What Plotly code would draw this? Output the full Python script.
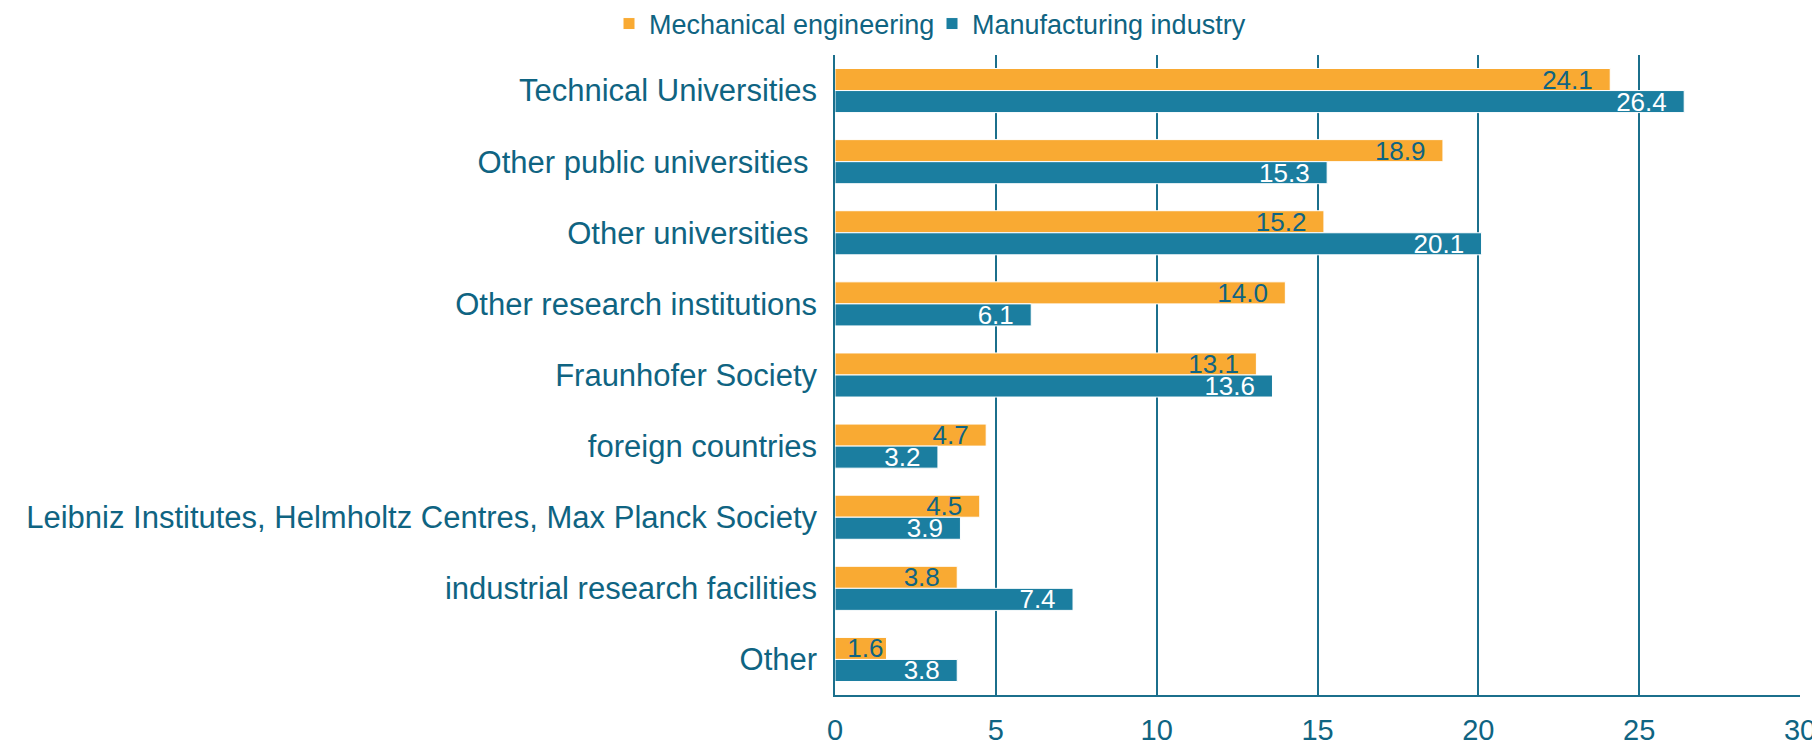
import plotly.graph_objects as go

categories = [
    "Technical Universities",
    "Other public universities ",
    "Other universities ",
    "Other research institutions",
    "Fraunhofer Society",
    "foreign countries",
    "Leibniz Institutes, Helmholtz Centres, Max Planck Society",
    "industrial research facilities",
    "Other",
]
mechanical = [24.1, 18.9, 15.2, 14.0, 13.1, 4.7, 4.5, 3.8, 1.6]
manufacturing = [26.4, 15.3, 20.1, 6.1, 13.6, 3.2, 3.9, 7.4, 3.8]
x_ticks = [0, 5, 10, 15, 20, 25, 30]

ORANGE = "#F9AA33"
BLUE = "#1B7EA0"
TEAL = "#0F6482"
GRID = "#1B6F8C"
FONT = "Liberation Sans, Arial, sans-serif"


def label(v):
    # short bars get no extra padding so the label stays inside the bar
    return f"{v:.1f}" + ("\u00a0\u00a0" if v >= 3 else "")


fig = go.Figure()
fig.add_trace(go.Bar(
    name="Mechanical engineering",
    y=categories, x=mechanical, orientation="h",
    marker=dict(color=ORANGE, line=dict(color="#FFFFFF", width=1)),
    text=[label(v) for v in mechanical],
    textposition="inside", insidetextanchor="end",
    textfont=dict(color=TEAL, size=26, family=FONT),
    constraintext="none",
))
fig.add_trace(go.Bar(
    name="Manufacturing industry",
    y=categories, x=manufacturing, orientation="h",
    marker=dict(color=BLUE, line=dict(color="#FFFFFF", width=1)),
    text=[label(v) for v in manufacturing],
    textposition="inside", insidetextanchor="end",
    textfont=dict(color="#FFFFFF", size=26, family=FONT),
    constraintext="none",
))

W, H = 1812, 739
fig.update_layout(
    width=W, height=H,
    margin=dict(l=827, r=20, t=47, b=52, autoexpand=False),
    paper_bgcolor="white", plot_bgcolor="white",
    barmode="group", bargap=0.38, bargroupgap=0,
    font=dict(family=FONT, color=TEAL),
    legend=dict(
        orientation="h", xref="container", yref="container",
        x=601 / W, xanchor="left", y=1 - 16 / H, yanchor="middle",
        font=dict(size=27, color=TEAL, family=FONT),
        traceorder="normal", entrywidth=278,
    ),
    showlegend=True,
)
fig.update_xaxes(
    range=[0, 30], tickvals=x_ticks, ticktext=[str(t) for t in x_ticks],
    showgrid=True, gridcolor=GRID, gridwidth=1.5,
    showline=True, linecolor=GRID, linewidth=2,
    zeroline=False, ticks="", ticklabelstandoff=8, automargin=False,
    tickfont=dict(size=29, color=TEAL, family=FONT),
    fixedrange=True,
)
fig.update_yaxes(
    autorange="reversed", showgrid=False, showline=True,
    linecolor=GRID, linewidth=1.5, ticks="", ticklabelstandoff=10,
    automargin=False,
    tickfont=dict(size=31, color=TEAL, family=FONT),
    fixedrange=True,
)

fig.write_html("out.html")
